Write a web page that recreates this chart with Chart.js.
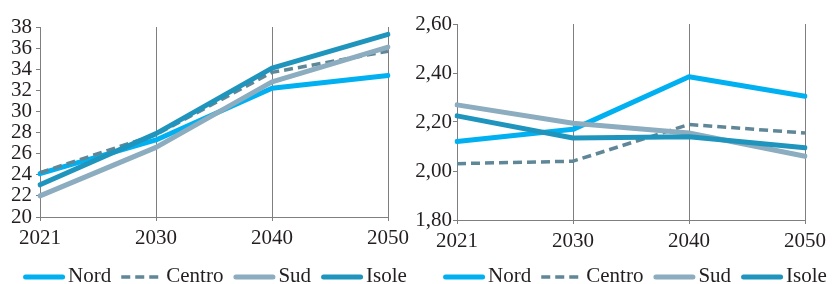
<!DOCTYPE html>
<html><head><meta charset="utf-8">
<script src="https://cdn.jsdelivr.net/npm/chart.js@4/dist/chart.umd.min.js"></script>
<style>
html,body{margin:0;padding:0;background:#fff;}
#wrap{display:flex;width:832px;height:284px;}
canvas{display:block;}
</style></head><body>
<div id="wrap"><canvas id="a" width="416" height="284"></canvas><canvas id="b" width="416" height="284"></canvas></div>
<script>
// ---- data ----
const years = ['2021', '2030', '2040', '2050'];
const seriesNames = ['Nord', 'Centro', 'Sud', 'Isole'];

const leftNord   = [24.1, 27.3, 32.2, 33.4];
const leftCentro = [24.2, 27.8, 33.7, 35.7];
const leftSud    = [22.0, 26.6, 32.8, 36.1];
const leftIsole  = [23.05, 27.9, 34.1, 37.3];
const leftTicks  = [20, 22, 24, 26, 28, 30, 32, 34, 36, 38];

const rightNord   = [2.12, 2.17, 2.385, 2.305];
const rightCentro = [2.03, 2.04, 2.19, 2.155];
const rightSud    = [2.27, 2.195, 2.155, 2.06];
const rightIsole  = [2.225, 2.135, 2.14, 2.095];
const rightTicks  = [1.8, 2.0, 2.2, 2.4, 2.6];

// ---- styling ----
const FONT = '"Liberation Serif", "DejaVu Serif", serif';
const FSIZE = 21;
const TEXT = '#231f20';
const GRID = '#7f7f7f';
const styles = [
  {color: '#00b0f0', width: 5, dash: []},
  {color: '#5f8797', width: 3.5, dash: [9, 5]},
  {color: '#8cacbf', width: 5, dash: []},
  {color: '#1f95bd', width: 5, dash: []}
];

function makeDatasets(vals) {
  return vals.map((v, i) => ({
    label: seriesNames[i],
    data: v,
    borderColor: styles[i].color,
    backgroundColor: styles[i].color,
    borderWidth: styles[i].width,
    borderDash: styles[i].dash,
    borderCapStyle: styles[i].dash.length ? 'butt' : 'round',
    borderJoinStyle: 'round',
    pointRadius: 0,
    tension: 0,
    order: 4 - i
  }));
}

const legendPlugin = {
  id: 'customLegend',
  afterDraw(chart, args, opts) {
    const ctx = chart.ctx, ca = chart.chartArea;
    ctx.save();
    ctx.font = FSIZE + 'px ' + FONT;
    const lineW = 42, gapT = 3, gapI = 10;
    const items = chart.data.datasets.map(ds => ({ds, tw: ctx.measureText(ds.label).width}));
    const total = items.reduce((s, it) => s + lineW + gapT + it.tw, 0) + gapI * (items.length - 1);
    let x = (ca.left + ca.right) / 2 - total / 2 + (opts.shift || 0);
    const yLine = 277, yText = 282;
    items.forEach(it => {
      const ds = it.ds;
      ctx.beginPath();
      ctx.strokeStyle = ds.borderColor;
      ctx.lineWidth = ds.borderWidth;
      ctx.setLineDash(ds.borderDash || []);
      ctx.lineCap = ds.borderDash && ds.borderDash.length ? 'butt' : 'round';
      const inset = ctx.lineCap === 'round' ? ds.borderWidth / 2 : 0;
      ctx.moveTo(x + inset, yLine);
      ctx.lineTo(x + lineW - inset, yLine);
      ctx.stroke();
      ctx.setLineDash([]);
      ctx.fillStyle = TEXT;
      ctx.textBaseline = 'alphabetic';
      ctx.textAlign = 'left';
      ctx.fillText(ds.label, x + lineW + gapT, yText);
      x += lineW + gapT + it.tw + gapI;
    });
    ctx.restore();
  }
};

function makeChart(id, vals, ticks, fmt, cfg) {
  return new Chart(document.getElementById(id), {
    type: 'line',
    data: {labels: years, datasets: makeDatasets(vals)},
    plugins: [legendPlugin],
    options: {
      responsive: false,
      animation: false,
      layout: {padding: {left: 0, right: cfg.padRight, top: cfg.padTop, bottom: cfg.padBottom}},
      plugins: {legend: {display: false}, tooltip: {enabled: false}, customLegend: {shift: cfg.shift}},
      scales: {
        x: {
          offset: false,
          grid: {display: true, drawOnChartArea: true, drawTicks: true, tickLength: 4, color: GRID, lineWidth: 1},
          border: {display: true, color: GRID, width: 1},
          ticks: {color: TEXT, font: {family: FONT, size: FSIZE}, padding: 5, maxRotation: 0, autoSkip: false},
          afterFit: s => { s.height = 40; }
        },
        y: {
          min: ticks[0], max: ticks[ticks.length - 1],
          afterBuildTicks: s => { s.ticks = ticks.map(v => ({value: v})); },
          grid: {display: true, drawOnChartArea: false, drawTicks: true, tickLength: 4, color: GRID},
          border: {display: true, color: GRID, width: 1},
          ticks: {color: TEXT, font: {family: FONT, size: FSIZE}, padding: cfg.tickPad, autoSkip: false, callback: v => fmt(v)},
          afterFit: s => { s.width = cfg.yWidth; }
        }
      }
    }
  });
}

makeChart('a', [leftNord, leftCentro, leftSud, leftIsole], leftTicks, v => String(Math.round(v)),
  {padRight: 28, padTop: 27, padBottom: 27, yWidth: 40, tickPad: 4, shift: 1});
makeChart('b', [rightNord, rightCentro, rightSud, rightIsole], rightTicks, v => v.toFixed(2).replace('.', ','),
  {padRight: 27, padTop: 24, padBottom: 24, yWidth: 41, tickPad: 1, shift: 4});
</script>
</body></html>
